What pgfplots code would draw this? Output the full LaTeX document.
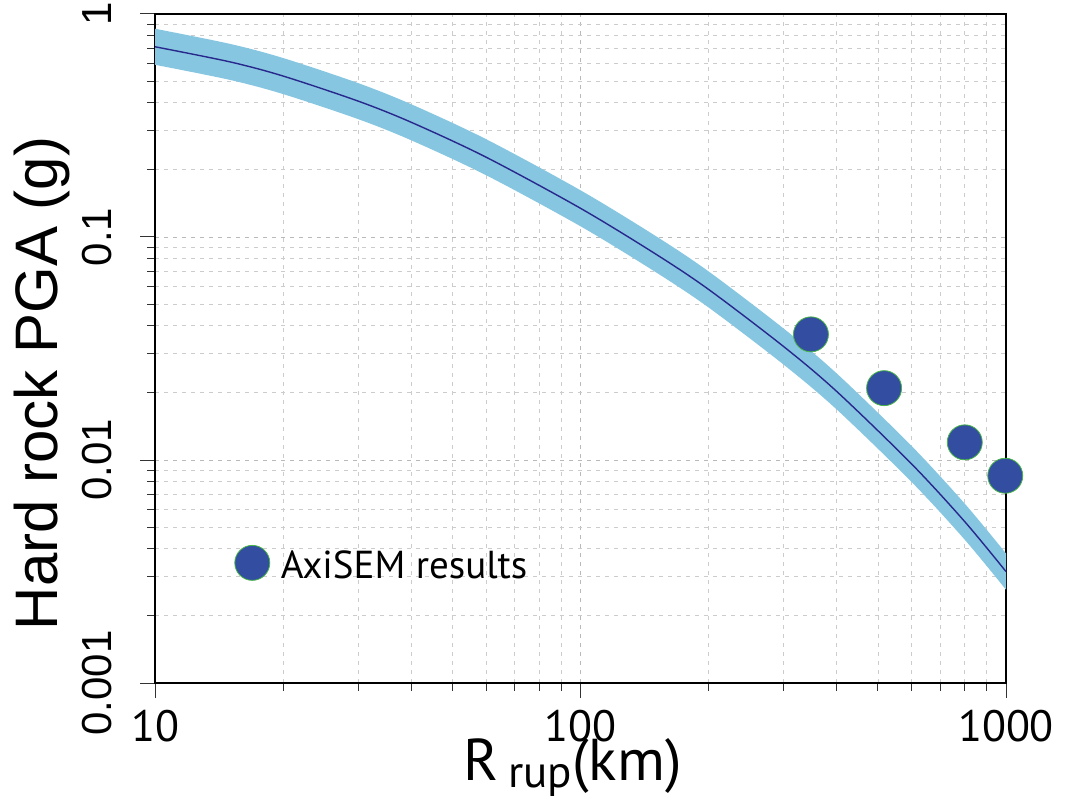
\documentclass[border=0pt]{standalone}
\usepackage{fontspec}
\setmainfont{Liberation Sans}
\newfontfamily\pts{PT Sans}
\usepackage{pgfplots}
\usepackage{pgfplotstable}
\pgfplotsset{compat=1.18}
\usepgfplotslibrary{fillbetween}
\definecolor{band}{RGB}{134,198,225}
\definecolor{med}{RGB}{40,40,140}
\definecolor{dot}{RGB}{51,77,160}
\definecolor{dotedge}{RGB}{70,180,70}

\pgfplotstableread{
R    up      lo      med
10   0.8588  0.5919  0.713
15   0.7347  0.5064  0.610
20   0.6348  0.4375  0.527
30   0.4902  0.3379  0.407
40   0.3939  0.2715  0.327
60   0.2746  0.1893  0.228
100  0.1620  0.1117  0.1345
150  0.1012  0.0697  0.0840
200  0.0701  0.0483  0.0582
300  0.0389  0.0268  0.0323
400  0.02445 0.01685 0.0203
600  0.01156 0.00797 0.0096
800  0.00637 0.00439 0.00529
1000 0.00381 0.00262 0.00316
}\curve

\pgfplotstableread{
R    pga
348  0.0366
517  0.0210
800  0.0120
996  0.0085
}\axisem

\begin{document}
\begin{tikzpicture}
\begin{axis}[
  at={(0,0)}, anchor=south west,
  width=851pt, height=669pt, scale only axis,
  xmode=log, ymode=log,
  xmin=10, xmax=1000, ymin=0.001, ymax=1,
  clip=false,
  xtick={10,100,1000}, xticklabels={10,100,1000},
  ytick={0.001,0.01,0.1,1}, yticklabels={0.001,0.01,0.1,1},
  minor xtick={20,30,40,50,60,70,80,90,200,300,400,500,600,700,800,900},
  minor ytick={0.002,0.003,0.004,0.005,0.006,0.007,0.008,0.009,0.02,0.03,0.04,0.05,0.06,0.07,0.08,0.09,0.2,0.3,0.4,0.5,0.6,0.7,0.8,0.9},
  grid=both,
  major grid style={gray!55, dash pattern=on 4pt off 5pt, line width=0.8pt},
  minor grid style={gray!40, dash pattern=on 4pt off 5pt, line width=0.8pt},
  tick align=outside, xtick pos=bottom, ytick pos=left,
  major tick length=15pt, minor tick length=8pt,
  every tick/.style={black!80, line width=1pt},
  axis line style={black, line width=1.3pt},
  xticklabel style={font=\pts\fontsize{44}{44}\selectfont, anchor=base, inner sep=0pt, yshift=-44pt},
  yticklabel style={font=\fontsize{42}{42}\selectfont, xshift=-29pt, rotate=90, anchor=base, inner sep=0pt},
  xlabel={R\,\raisebox{-7pt}{\fontsize{45}{45}\selectfont rup}(km)},
  xlabel style={font=\pts\fontsize{59}{59}\selectfont, at={(axis description cs:0.4906,-0.145)}, anchor=base, inner sep=0pt},
  ylabel={Hard rock PGA (g)},
  ylabel style={font=\fontsize{60}{60}\selectfont, at={(axis description cs:-0.114,0.4477)}, anchor=base, inner sep=0pt},
  legend style={at={(axis description cs:0.09,0.178)}, anchor=west, draw=none, fill=none,
    font=\pts\fontsize{39}{39}\selectfont, column sep=9pt},
  legend image code/.code={\draw[#1] plot coordinates {(0pt,3pt)};},
]
\addplot[name path=U, draw=none, smooth, forget plot] table[x=R, y=up] {\curve};
\addplot[name path=L, draw=none, smooth, forget plot] table[x=R, y=lo] {\curve};
\addplot[band, draw=none, forget plot] fill between[of=U and L];
\addplot[med, line width=1.4pt, smooth, forget plot] table[x=R, y=med] {\curve};
\addplot[only marks, mark=*, mark size=17.5pt, mark options={fill=dot, draw=dotedge, line width=0.8pt}] table[x=R, y=pga] {\axisem};
\addlegendentry{AxiSEM results}
\end{axis}
\path (-155pt,-118pt) rectangle (912pt,683pt);
\end{tikzpicture}
\end{document}
